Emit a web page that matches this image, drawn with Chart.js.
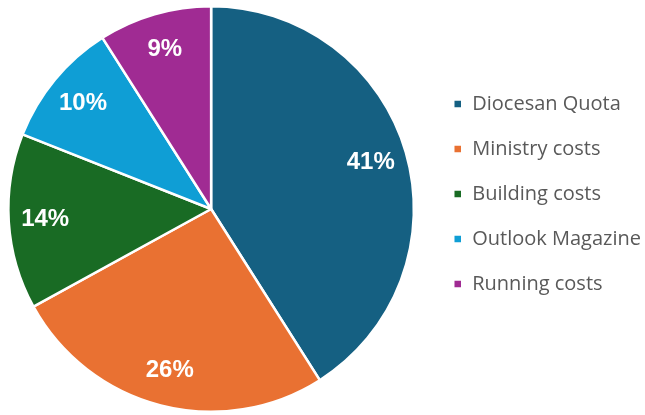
<!DOCTYPE html>
<html>
<head>
<meta charset="utf-8">
<script src="https://cdn.jsdelivr.net/npm/chart.js@4.4.1/dist/chart.umd.min.js"></script>
<style>
  html, body { margin: 0; padding: 0; background: #fff; }
  #wrap { width: 645px; height: 415px; }
</style>
</head>
<body>
<div id="wrap"><canvas id="pie"></canvas></div>
<script>
const categories = ["Diocesan Quota", "Ministry costs", "Building costs", "Outlook Magazine", "Running costs"];
const shares = [41, 26, 14, 10, 9];
const colours = ["#156082", "#E97132", "#196B24", "#0F9ED5", "#A02B93"];

// white % labels inside each slice
const sliceLabels = {
  id: "sliceLabels",
  afterDatasetsDraw(chart) {
    const ctx = chart.ctx;
    const meta = chart.getDatasetMeta(0);
    ctx.save();
    ctx.fillStyle = "#fff";
    ctx.font = "bold 24px 'Liberation Sans', Arial, sans-serif";
    ctx.textAlign = "center";
    ctx.textBaseline = "middle";
    meta.data.forEach((arc, i) => {
      const p = arc.getProps(["x", "y", "startAngle", "endAngle", "outerRadius"], true);
      const mid = (p.startAngle + p.endAngle) / 2;
      const r = p.outerRadius * 0.82;
      ctx.fillText(shares[i] + "%", p.x + Math.cos(mid) * r, p.y + Math.sin(mid) * r);
    });
    ctx.restore();
  }
};

// nudge the legend to where the original sits
const legendNudge = {
  id: "legendNudge",
  afterLayout(chart) {
    const lg = chart.legend;
    if (!lg) return;
    lg.left += 13; lg.right += 13;
    lg.top -= 15; lg.bottom -= 15;
  }
};

new Chart(document.getElementById("pie"), {
  type: "pie",
  data: {
    labels: categories,
    datasets: [{
      data: shares,
      backgroundColor: colours,
      borderColor: "#fff",
      borderWidth: 2.5
    }]
  },
  options: {
    responsive: true,
    maintainAspectRatio: false,
    animation: false,
    layout: { padding: { left: 7, top: 5, bottom: 2, right: 7 } },
    plugins: {
      tooltip: { enabled: false },
      legend: {
        position: "right",
        labels: {
          boxWidth: 9,
          boxHeight: 9,
          padding: 25,
          color: "#595959",
          font: { size: 20, family: "'Open Sans', sans-serif" }
        }
      }
    }
  },
  plugins: [sliceLabels, legendNudge]
});
</script>
</body>
</html>
